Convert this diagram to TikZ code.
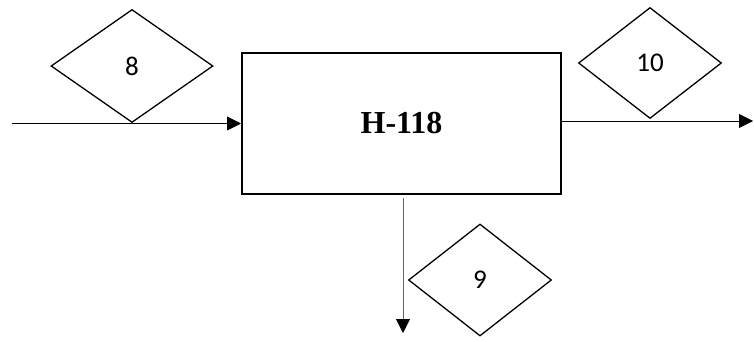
\documentclass[tikz,border=0pt]{standalone}
\usepackage{fontspec}
\setmainfont{Liberation Serif}
\newfontfamily\labelfont{Carlito}
\usetikzlibrary{shapes.geometric,arrows.meta}
\tikzset{
  tag/.style={diamond,draw,line width=1.3pt,inner sep=0pt,font=\labelfont\fontsize{27}{30}\selectfont},
  unit/.style={draw,line width=2pt,minimum width=319pt,minimum height=141pt,inner sep=0pt,font=\bfseries\fontsize{32}{36}\selectfont},
  flow/.style={line width=0.9pt,-{Triangle[length=14pt,width=14pt,color=black]}}
}
\begin{document}
\begin{tikzpicture}[x=1pt,y=-1pt]
\useasboundingbox (0,0) rectangle (754,342);
\node[unit] (box) at (401.5,123.5) {H-118};
\node[tag,minimum width=162pt,minimum height=113pt] (d8) at (132,66) {8};
\node[tag,minimum width=143pt,minimum height=111pt] (d10) at (650,63) {10};
\node[tag,minimum width=143pt,minimum height=112pt] (d9) at (480,280) {9};
\coordinate (in) at (12,123.5);
\coordinate (out) at (753,121);
\coordinate (down) at (403,333);
\draw[flow] (in) -- (box.west);
\draw[flow] (box.east |- out) -- (out);
\draw[flow,draw=black!60] ([yshift=-3pt]box.south -| down) -- (down);
\end{tikzpicture}
\end{document}
